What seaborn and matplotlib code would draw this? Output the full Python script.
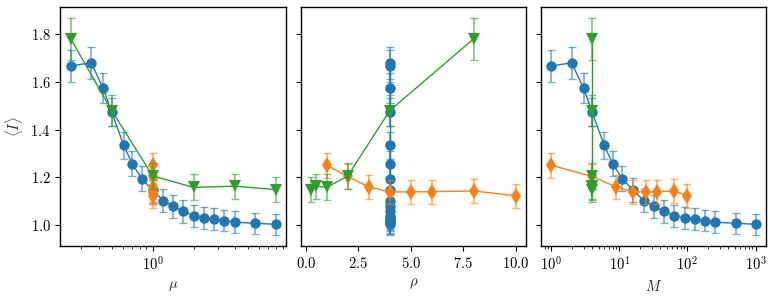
import numpy as np
import pandas as pd
import seaborn as sns
import matplotlib.pyplot as plt

# blue: rho fixed at 4, M varies
M_blue = [1, 2, 3, 4, 6, 8, 11, 16, 23, 32, 45, 64, 91, 128, 181, 256, 512, 1024]
I_blue = [1.667, 1.681, 1.573, 1.473, 1.334, 1.257, 1.194, 1.145, 1.101, 1.077,
          1.056, 1.038, 1.028, 1.025, 1.017, 1.011, 1.006, 1.002]
err_blue = [0.067, 0.068, 0.063, 0.060, 0.057, 0.054, 0.052, 0.050, 0.049, 0.048,
            0.047, 0.046, 0.046, 0.046, 0.045, 0.045, 0.045, 0.045]
rho_blue = [4] * len(M_blue)

# orange: M = rho^2
rho_orange = [1, 2, 3, 4, 5, 6, 8, 10]
M_orange = [1, 4, 9, 16, 25, 36, 64, 100]
I_orange = [1.250, 1.203, 1.159, 1.138, 1.138, 1.139, 1.142, 1.122]
err_orange = [0.053, 0.051, 0.050, 0.050, 0.050, 0.050, 0.050, 0.050]

# green: M fixed at 4
rho_green = [8, 4, 2, 1, 0.5, 0.25]
M_green = [4] * len(rho_green)
I_green = [1.782, 1.480, 1.205, 1.157, 1.162, 1.148]
err_green = [0.088, 0.065, 0.055, 0.055, 0.053, 0.052]


def make_df(M, rho, I, err):
    df = pd.DataFrame({'M': M, 'rho': rho, 'I': I, 'err': err})
    df['mu'] = np.sqrt(df['M']) / df['rho']
    return df


series = [
    (make_df(M_blue, rho_blue, I_blue, err_blue), '#1f77b4', 'o', 7.5),
    (make_df(M_orange, rho_orange, I_orange, err_orange), '#ff7f0e', 'd', 8),
    (make_df(M_green, rho_green, I_green, err_green), '#2ca02c', 'v', 8),
]

sns.set_style('ticks', {'axes.edgecolor': 'black', 'xtick.color': 'black',
                        'ytick.color': 'black', 'text.color': 'black'})
plt.rcParams['font.family'] = ['cmr10', 'DejaVu Serif']
plt.rcParams['mathtext.fontset'] = 'cm'
plt.rcParams['axes.formatter.use_mathtext'] = True
plt.rcParams['font.size'] = 10.5

fig, axes = plt.subplots(1, 3, figsize=(7.75, 2.98), dpi=100, sharey=True)
fig.subplots_adjust(left=0.078, right=0.989, top=0.977, bottom=0.175, wspace=0.065)

cols = ['mu', 'rho', 'M']
labels = [r'$\mu$', r'$\rho$', r'$M$']

for ax, col, lab in zip(axes, cols, labels):
    for df, c, m, ms in series:
        ax.errorbar(df[col], df['I'], yerr=df['err'], fmt='none', ecolor=c,
                    alpha=0.6, capsize=3, elinewidth=1.2)
        sns.lineplot(data=df, x=col, y='I', ax=ax, color=c, marker=m,
                     markersize=ms, markeredgewidth=0, linewidth=1,
                     estimator=None, sort=False)
    ax.set_xlabel(lab)
    for s in ax.spines.values():
        s.set_linewidth(1.0)
        s.set_color('black')
    ax.tick_params(direction='out', length=3.5, colors='black')

axes[0].set_xscale('log')
axes[2].set_xscale('log')
axes[0].set_ylabel(r'$\langle I \rangle$')
axes[1].set_ylabel('')
axes[2].set_ylabel('')
axes[0].set_yticks([1.0, 1.2, 1.4, 1.6, 1.8])

fig.savefig('out.png', dpi=100)
